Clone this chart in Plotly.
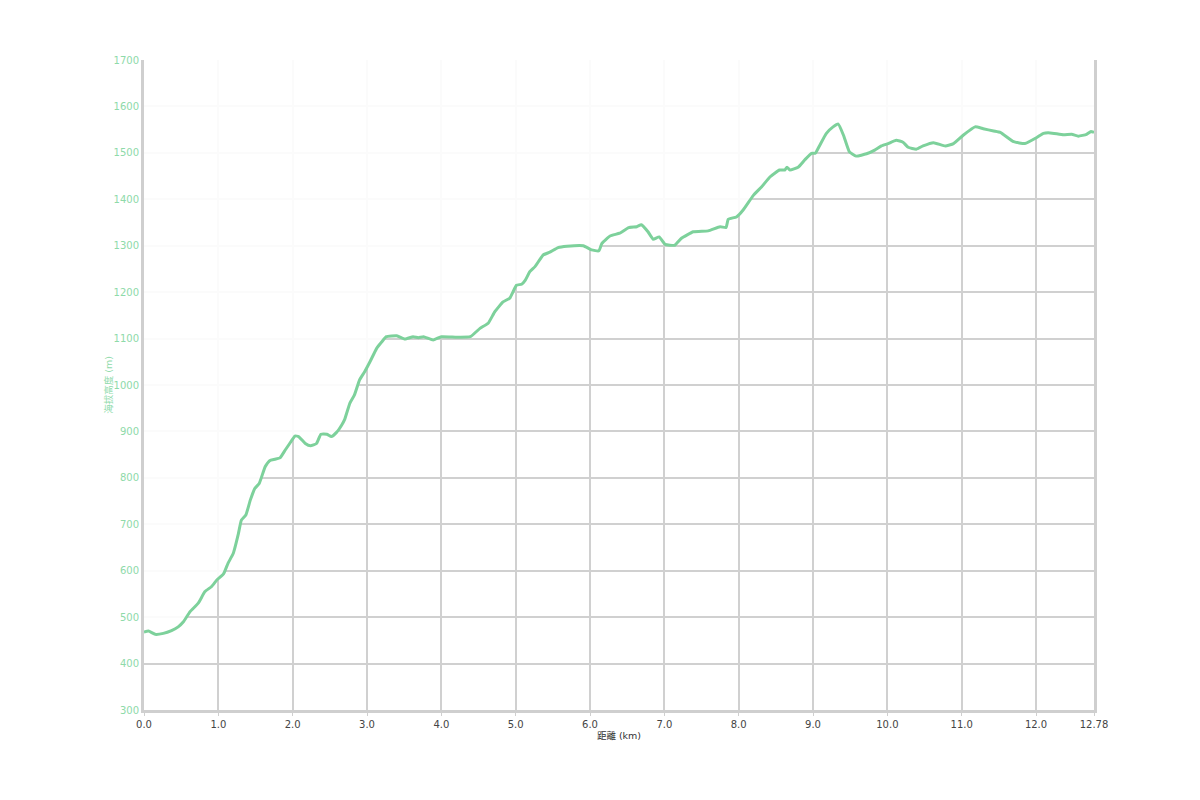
import plotly.graph_objects as go

dist_km = [0.00, 0.06, 0.15, 0.26, 0.37, 0.46, 0.53, 0.62, 0.73, 0.82, 0.91, 0.98,
           1.07, 1.13, 1.20, 1.27, 1.31, 1.37, 1.43, 1.49, 1.55, 1.63, 1.69, 1.76,
           1.83, 1.90, 1.96, 2.03, 2.08, 2.17, 2.24, 2.32, 2.38, 2.46, 2.52, 2.59,
           2.66, 2.70, 2.77, 2.83, 2.90, 2.97, 3.04, 3.13, 3.20, 3.26, 3.40, 3.51,
           3.62, 3.69, 3.76, 3.89, 4.00, 4.21, 4.39, 4.52, 4.63, 4.72, 4.83, 4.92,
           5.01, 5.08, 5.13, 5.19, 5.26, 5.37, 5.46, 5.57, 5.69, 5.91, 6.02, 6.12,
           6.16, 6.27, 6.40, 6.52, 6.63, 6.69, 6.78, 6.85, 6.93, 7.01, 7.14, 7.23,
           7.39, 7.59, 7.75, 7.83, 7.86, 7.97, 8.06, 8.20, 8.31, 8.42, 8.55, 8.62,
           8.65, 8.69, 8.80, 8.89, 8.98, 9.03, 9.09, 9.18, 9.27, 9.34, 9.41, 9.49,
           9.58, 9.72, 9.83, 9.92, 10.01, 10.12, 10.21, 10.28, 10.39, 10.48, 10.62,
           10.78, 10.89, 11.02, 11.18, 11.29, 11.43, 11.52, 11.70, 11.85, 12.01,
           12.10, 12.19, 12.37, 12.48, 12.57, 12.68, 12.74, 12.78]
elev_m = [468, 470, 463, 465, 471, 479, 490, 512, 530, 555, 566, 580,
          593, 616, 637, 680, 709, 720, 752, 777, 788, 824, 837, 840,
          843, 860, 874, 890, 889, 874, 869, 874, 894, 894, 889, 898,
          914, 926, 961, 978, 1011, 1029, 1050, 1079, 1093, 1104, 1106, 1099,
          1104, 1102, 1104, 1097, 1104, 1103, 1104, 1122, 1133, 1158, 1179, 1187,
          1215, 1217, 1226, 1244, 1255, 1280, 1286, 1296, 1299, 1300, 1291, 1289,
          1305, 1321, 1327, 1339, 1341, 1345, 1330, 1314, 1319, 1303, 1301, 1316,
          1330, 1332, 1341, 1339, 1357, 1362, 1377, 1409, 1427, 1448, 1463, 1463,
          1469, 1463, 1469, 1485, 1499, 1499, 1516, 1542, 1556, 1562, 1538, 1502,
          1493, 1498, 1506, 1515, 1520, 1527, 1523, 1512, 1508, 1515, 1522,
          1515, 1520, 1538, 1556, 1552, 1547, 1544, 1524, 1520, 1533,
          1542, 1543, 1539, 1540, 1536, 1540, 1546, 1544]

x_tick_vals = [0, 1, 2, 3, 4, 5, 6, 7, 8, 9, 10, 11, 12, 12.78]
x_tick_text = ["0.0", "1.0", "2.0", "3.0", "4.0", "5.0", "6.0", "7.0", "8.0",
               "9.0", "10.0", "11.0", "12.0", "12.78"]
y_tick_vals = list(range(300, 1800, 100))
y_range = [300, 1700]

GREEN = "#7dd19b"
LABEL_GREEN = "#8edaa9"
FONT = "Verdana, DejaVu Sans, Noto Sans CJK TC, sans-serif"

fig = go.Figure()
# invisible top boundary used to veil the grid above the profile
fig.add_trace(go.Scatter(
    x=dist_km, y=[y_range[1]] * len(dist_km), mode="lines",
    line=dict(width=0, color="rgba(0,0,0,0)"), hoverinfo="skip", showlegend=False))
fig.add_trace(go.Scatter(
    x=dist_km, y=elev_m, mode="lines",
    line=dict(color=GREEN, width=3, shape="spline", smoothing=0.4),
    fill="tonexty", fillcolor="rgba(255,255,255,0.91)",
    showlegend=False, name="海拔高度"))

fig.update_layout(
    width=1200, height=800,
    margin=dict(l=136, r=114, t=52, b=98),
    paper_bgcolor="white", plot_bgcolor="white",
    font=dict(family=FONT, size=10, color="#444"),
    showlegend=False,
)
fig.update_xaxes(
    range=[0, 12.78], tickmode="array", tickvals=x_tick_vals, ticktext=x_tick_text,
    showgrid=True, gridcolor="#d0d0d0", gridwidth=1.5,
    showline=True, linecolor="#cfcfcf", linewidth=3,
    ticks="outside", ticklen=3, tickcolor="#cfcfcf", tickwidth=1,
    tickfont=dict(family=FONT, size=10, color="#444"),
    title=dict(text="距離 (km)", font=dict(family=FONT, size=9.5, color="#333"), standoff=2),
    zeroline=False,
)
fig.update_yaxes(
    range=y_range, tickmode="array", tickvals=y_tick_vals,
    showgrid=True, gridcolor="#d0d0d0", gridwidth=1.5,
    showline=True, linecolor="#cfcfcf", linewidth=3, mirror=True,
    ticks="", tickfont=dict(family=FONT, size=10, color=LABEL_GREEN),
    title=dict(text="海拔高度 (m)", font=dict(family=FONT, size=9.5, color=LABEL_GREEN), standoff=0),
    zeroline=False,
)

fig.write_html("out.html")
